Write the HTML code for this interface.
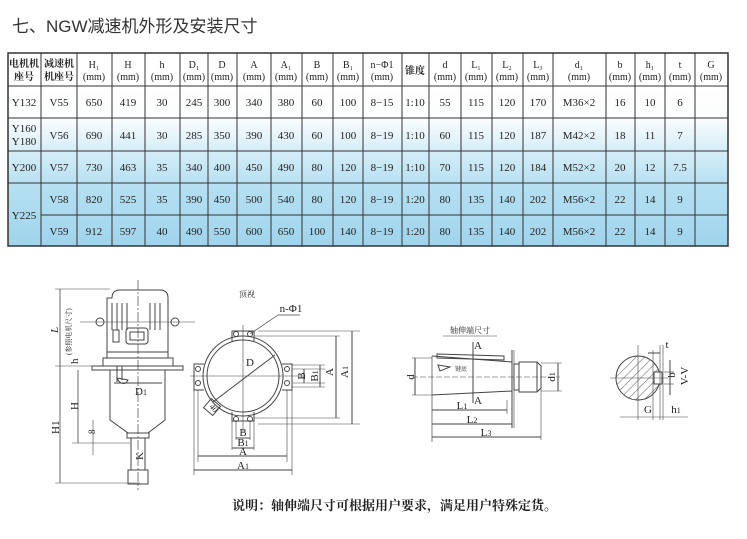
<!DOCTYPE html>
<html><head><meta charset="utf-8"><style>
html,body{margin:0;padding:0;background:#fff;}
svg{display:block;}
.t{font-family:"Liberation Serif","Noto Serif CJK SC",serif;fill:#222;}
.s{font-family:"Liberation Sans","Noto Sans CJK SC",sans-serif;}
</style></head><body>
<svg width="747" height="539" viewBox="0 0 747 539" xmlns="http://www.w3.org/2000/svg">
<defs>
<linearGradient id="bg" x1="0" y1="86" x2="0" y2="246" gradientUnits="userSpaceOnUse">
<stop offset="0" stop-color="#ffffff"/><stop offset="0.2" stop-color="#fbfdfe"/>
<stop offset="0.4" stop-color="#d6eef8"/><stop offset="0.62" stop-color="#b6e0f2"/>
<stop offset="1" stop-color="#9fd4ec"/></linearGradient>
<pattern id="hat" width="6" height="6" patternUnits="userSpaceOnUse" patternTransform="rotate(45)"><line x1="0" y1="0" x2="0" y2="6" stroke="#333" stroke-width="0.8"/></pattern>
</defs>
<text x="12" y="32" class="s" font-size="17" fill="#333">七、NGW减速机外形及安装尺寸</text>

<rect x="8" y="86" width="720" height="160" fill="url(#bg)"/>
<g stroke="#333" stroke-width="1" fill="none">
<rect x="8" y="53" width="720" height="193" stroke-width="1.5"/>
<line x1="8" y1="86" x2="728" y2="86"/>
<line x1="8" y1="118" x2="728" y2="118"/>
<line x1="8" y1="151" x2="728" y2="151"/>
<line x1="8" y1="183" x2="728" y2="183"/>
<line x1="41" y1="215" x2="728" y2="215"/>
<line x1="41" y1="53" x2="41" y2="246"/><line x1="77" y1="53" x2="77" y2="246"/><line x1="112" y1="53" x2="112" y2="246"/><line x1="145" y1="53" x2="145" y2="246"/><line x1="180" y1="53" x2="180" y2="246"/><line x1="208" y1="53" x2="208" y2="246"/><line x1="237" y1="53" x2="237" y2="246"/><line x1="271" y1="53" x2="271" y2="246"/><line x1="302" y1="53" x2="302" y2="246"/><line x1="333" y1="53" x2="333" y2="246"/><line x1="363" y1="53" x2="363" y2="246"/><line x1="402" y1="53" x2="402" y2="246"/><line x1="429" y1="53" x2="429" y2="246"/><line x1="461" y1="53" x2="461" y2="246"/><line x1="492" y1="53" x2="492" y2="246"/><line x1="523" y1="53" x2="523" y2="246"/><line x1="553" y1="53" x2="553" y2="246"/><line x1="606" y1="53" x2="606" y2="246"/><line x1="635" y1="53" x2="635" y2="246"/><line x1="665" y1="53" x2="665" y2="246"/><line x1="695" y1="53" x2="695" y2="246"/>
</g>
<g class="t" font-size="10" text-anchor="middle">
<text x="24" y="67" font-weight="bold">电机机</text><text x="24" y="80" font-weight="bold">座号</text>
<text x="59" y="67" font-weight="bold">减速机</text><text x="59" y="80" font-weight="bold">机座号</text>
<text x="94" y="68">H₁</text><text x="94" y="80">(mm)</text>
<text x="128" y="68">H</text><text x="128" y="80">(mm)</text>
<text x="162" y="68">h</text><text x="162" y="80">(mm)</text>
<text x="194" y="68">D₁</text><text x="194" y="80">(mm)</text>
<text x="222" y="68">D</text><text x="222" y="80">(mm)</text>
<text x="254" y="68">A</text><text x="254" y="80">(mm)</text>
<text x="286" y="68">A₁</text><text x="286" y="80">(mm)</text>
<text x="317" y="68">B</text><text x="317" y="80">(mm)</text>
<text x="348" y="68">B₁</text><text x="348" y="80">(mm)</text>
<text x="382" y="68">n−Φ1</text><text x="382" y="80">(mm)</text>
<text x="415" y="74" font-weight="bold">锥度</text>
<text x="445" y="68">d</text><text x="445" y="80">(mm)</text>
<text x="476" y="68">L₁</text><text x="476" y="80">(mm)</text>
<text x="507" y="68">L₂</text><text x="507" y="80">(mm)</text>
<text x="538" y="68">L₃</text><text x="538" y="80">(mm)</text>
<text x="579" y="68">d₁</text><text x="579" y="80">(mm)</text>
<text x="620" y="68">b</text><text x="620" y="80">(mm)</text>
<text x="650" y="68">h₁</text><text x="650" y="80">(mm)</text>
<text x="680" y="68">t</text><text x="680" y="80">(mm)</text>
<text x="711" y="68">G</text><text x="711" y="80">(mm)</text>
</g>
<g class="t" font-size="11" text-anchor="middle">
<text x="24" y="106">Y132</text><text x="24" y="132">Y160</text><text x="24" y="145">Y180</text><text x="24" y="171">Y200</text><text x="24" y="219">Y225</text>
</g>
<g class="t" font-size="11" text-anchor="middle">
<text y="106"><tspan x="59">V55</tspan><tspan x="94">650</tspan><tspan x="128">419</tspan><tspan x="162">30</tspan><tspan x="194">245</tspan><tspan x="222">300</tspan><tspan x="254">340</tspan><tspan x="286">380</tspan><tspan x="317">60</tspan><tspan x="348">100</tspan><tspan x="382">8−15</tspan><tspan x="415">1:10</tspan><tspan x="445">55</tspan><tspan x="476">115</tspan><tspan x="507">120</tspan><tspan x="538">170</tspan><tspan x="579">M36×2</tspan><tspan x="620">16</tspan><tspan x="650">10</tspan><tspan x="680">6</tspan></text>
<text y="139"><tspan x="59">V56</tspan><tspan x="94">690</tspan><tspan x="128">441</tspan><tspan x="162">30</tspan><tspan x="194">285</tspan><tspan x="222">350</tspan><tspan x="254">390</tspan><tspan x="286">430</tspan><tspan x="317">60</tspan><tspan x="348">100</tspan><tspan x="382">8−19</tspan><tspan x="415">1:10</tspan><tspan x="445">60</tspan><tspan x="476">115</tspan><tspan x="507">120</tspan><tspan x="538">187</tspan><tspan x="579">M42×2</tspan><tspan x="620">18</tspan><tspan x="650">11</tspan><tspan x="680">7</tspan></text>
<text y="171"><tspan x="59">V57</tspan><tspan x="94">730</tspan><tspan x="128">463</tspan><tspan x="162">35</tspan><tspan x="194">340</tspan><tspan x="222">400</tspan><tspan x="254">450</tspan><tspan x="286">490</tspan><tspan x="317">80</tspan><tspan x="348">120</tspan><tspan x="382">8−19</tspan><tspan x="415">1:10</tspan><tspan x="445">70</tspan><tspan x="476">115</tspan><tspan x="507">120</tspan><tspan x="538">184</tspan><tspan x="579">M52×2</tspan><tspan x="620">20</tspan><tspan x="650">12</tspan><tspan x="680">7.5</tspan></text>
<text y="203"><tspan x="59">V58</tspan><tspan x="94">820</tspan><tspan x="128">525</tspan><tspan x="162">35</tspan><tspan x="194">390</tspan><tspan x="222">450</tspan><tspan x="254">500</tspan><tspan x="286">540</tspan><tspan x="317">80</tspan><tspan x="348">120</tspan><tspan x="382">8−19</tspan><tspan x="415">1:20</tspan><tspan x="445">80</tspan><tspan x="476">135</tspan><tspan x="507">140</tspan><tspan x="538">202</tspan><tspan x="579">M56×2</tspan><tspan x="620">22</tspan><tspan x="650">14</tspan><tspan x="680">9</tspan></text>
<text y="235"><tspan x="59">V59</tspan><tspan x="94">912</tspan><tspan x="128">597</tspan><tspan x="162">40</tspan><tspan x="194">490</tspan><tspan x="222">550</tspan><tspan x="254">600</tspan><tspan x="286">650</tspan><tspan x="317">100</tspan><tspan x="348">140</tspan><tspan x="382">8−19</tspan><tspan x="415">1:20</tspan><tspan x="445">80</tspan><tspan x="476">135</tspan><tspan x="507">140</tspan><tspan x="538">202</tspan><tspan x="579">M56×2</tspan><tspan x="620">22</tspan><tspan x="650">14</tspan><tspan x="680">9</tspan></text>
</g>

<!-- left side view -->
<g stroke="#444" stroke-width="1" fill="none">
<line x1="138" y1="280" x2="138" y2="490" stroke-dasharray="10,2,2,2" stroke-width="0.7"/>
<path d="M112 298 Q112 290 120 290 L160 290 Q168 290 168 298 L168 352 L107 352 L107 298 Z"/>
<path d="M107 318 L107 352 M168 318 L168 352"/>
<line x1="112" y1="303" x2="112" y2="330"/><line x1="117" y1="303" x2="117" y2="330"/><line x1="122" y1="303" x2="122" y2="330"/><line x1="127" y1="303" x2="127" y2="330"/><line x1="150" y1="303" x2="150" y2="330"/><line x1="155" y1="303" x2="155" y2="330"/><line x1="160" y1="303" x2="160" y2="330"/>
<rect x="113" y="330" width="6" height="12"/><rect x="126" y="328" width="22" height="16" rx="3"/><rect x="130" y="332" width="14" height="8"/>
<circle cx="100" cy="322" r="4"/><circle cx="175" cy="322" r="4"/>
<line x1="80" y1="322" x2="195" y2="322" stroke-width="0.6"/>
<path d="M107 352 L107 358 L168 358 L168 352 M103 358 L103 366 L173 366 L173 358 Z"/>
<rect x="92" y="366" width="91" height="4"/>
<path d="M110 370 L110 420 L128 433 L148 433 L165 420 L165 370"/>
<path d="M117 366 L117 382 M122 366 L122 380"/>
<path d="M117 378 Q120 385 126 383 L128 380 Z"/>
<rect x="127" y="433" width="22" height="5"/>
<path d="M131 438 L131 470 L145 470 L145 438"/>
<rect x="128" y="470" width="20" height="14"/>
<line x1="114" y1="383" x2="162" y2="383"/>
<line x1="60" y1="289" x2="60" y2="483" stroke-width="0.8"/>
<line x1="55" y1="289" x2="110" y2="289" stroke-width="0.6"/>
<line x1="55" y1="366" x2="92" y2="366" stroke-width="0.6"/>
<line x1="55" y1="483" x2="140" y2="483" stroke-width="0.6"/>
<line x1="78" y1="370" x2="78" y2="443" stroke-width="0.8"/>
<line x1="72" y1="443" x2="130" y2="443" stroke-width="0.6"/>
<line x1="93" y1="420" x2="93" y2="455" stroke-width="0.6"/>
</g>
<g class="t" font-size="11">
<text x="58" y="333" transform="rotate(-90 58 333)" font-style="italic">L</text>
<text x="71" y="355" font-size="7" transform="rotate(-90 71 355)">(参照电机尺寸)</text>
<text x="78" y="364" transform="rotate(-90 78 364)">h</text>
<text x="78" y="410" transform="rotate(-90 78 410)">H</text>
<text x="59" y="434" transform="rotate(-90 59 434)">H1</text>
<text x="95" y="434" font-size="9" transform="rotate(-90 95 434)">8</text>
<text x="143" y="460" transform="rotate(-90 143 460)">K</text>
<text x="135" y="395">D<tspan font-size="8">1</tspan></text>
</g>

<!-- top view -->
<g stroke="#444" stroke-width="1" fill="none">
<circle cx="243" cy="376" r="40"/><circle cx="243" cy="376" r="36"/>
<line x1="243" y1="325" x2="243" y2="432" stroke-width="0.6"/>
<line x1="190" y1="376" x2="305" y2="376" stroke-width="0.6"/>
<path d="M232 341 L232 331 L254 331 L254 341"/>
<circle cx="236" cy="334" r="2.5"/><circle cx="250" cy="334" r="2.5"/>
<path d="M204 364 L194 364 L194 390 L204 390"/><circle cx="198" cy="369" r="2.5"/><circle cx="198" cy="383" r="2.5"/>
<path d="M282 364 L292 364 L292 390 L282 390"/><circle cx="287" cy="369" r="2.5"/><circle cx="287" cy="383" r="2.5"/>
<path d="M232 412 L232 421 L254 421 L254 412"/><circle cx="236" cy="419" r="2.5"/><circle cx="250" cy="419" r="2.5"/>
<line x1="213" y1="402" x2="275" y2="355"/>
<rect x="206" y="401" width="12" height="12" transform="rotate(40 212 407)"/>
<line x1="250" y1="334" x2="278" y2="315" stroke-width="0.7"/>
<line x1="278" y1="315" x2="300" y2="315" stroke-width="0.7"/>
<line x1="258" y1="331" x2="360" y2="331" stroke-width="0.6"/>
<line x1="254" y1="336" x2="340" y2="336" stroke-width="0.6"/>
<line x1="254" y1="418" x2="340" y2="418" stroke-width="0.6"/>
<line x1="258" y1="424" x2="360" y2="424" stroke-width="0.6"/>
<line x1="336" y1="336" x2="336" y2="418"/><line x1="352" y1="331" x2="352" y2="424"/>
<line x1="292" y1="369" x2="325" y2="369" stroke-width="0.6"/><line x1="292" y1="383" x2="325" y2="383" stroke-width="0.6"/>
<line x1="292" y1="365" x2="325" y2="365" stroke-width="0.6"/><line x1="292" y1="387" x2="325" y2="387" stroke-width="0.6"/>
<line x1="304" y1="369" x2="304" y2="383"/><line x1="320" y1="365" x2="320" y2="387"/>
<line x1="232" y1="421" x2="232" y2="450" stroke-width="0.6"/><line x1="254" y1="421" x2="254" y2="450" stroke-width="0.6"/>
<line x1="236" y1="421" x2="236" y2="440" stroke-width="0.6"/><line x1="250" y1="421" x2="250" y2="440" stroke-width="0.6"/>
<line x1="236" y1="438" x2="250" y2="438"/><line x1="232" y1="448" x2="254" y2="448"/>
<line x1="198" y1="390" x2="198" y2="462" stroke-width="0.6"/><line x1="287" y1="390" x2="287" y2="462" stroke-width="0.6"/>
<line x1="194" y1="390" x2="194" y2="475" stroke-width="0.6"/><line x1="292" y1="390" x2="292" y2="475" stroke-width="0.6"/>
<line x1="198" y1="456" x2="287" y2="456"/><line x1="194" y1="470" x2="292" y2="470"/>
</g>
<g class="t" font-size="11" text-anchor="middle">
<text x="247" y="297" font-size="8">顶视</text>
<text x="291" y="312">n-Φ1</text>
<text x="250" y="366">D</text>
<text x="243" y="436">B</text>
<text x="243" y="446">B<tspan font-size="8">1</tspan></text>
<text x="243" y="455">A</text>
<text x="243" y="469">A<tspan font-size="8">1</tspan></text>
<text x="305" y="376" transform="rotate(-90 305 376)">B</text>
<text x="318" y="376" transform="rotate(-90 318 376)">B<tspan font-size="8">1</tspan></text>
<text x="336" y="375" transform="rotate(-90 333 375)">A</text>
<text x="351" y="375" transform="rotate(-90 348 375)">A<tspan font-size="8">1</tspan></text>
<text x="214" y="411" font-size="8" transform="rotate(50 214 408)">40</text>
</g>

<!-- shaft -->
<g stroke="#444" stroke-width="1" fill="none">
<line x1="412" y1="377" x2="560" y2="377" stroke-dasharray="6,2" stroke-width="0.6"/>
<path d="M432 356 L512 362 M432 395 L512 391"/>
<path d="M437 354 L504 356 L504 360 L437 358 Z"/>
<line x1="432" y1="356" x2="432" y2="442" stroke-width="0.7"/>
<line x1="512" y1="350" x2="512" y2="428"/><line x1="514" y1="350" x2="514" y2="428" stroke-width="0.6"/>
<rect x="514" y="364" width="5" height="26"/>
<path d="M519 362 L537 362 L541 366 L541 388 L537 392 L519 392 Z"/><line x1="537" y1="362" x2="537" y2="392"/>
<line x1="541" y1="388" x2="541" y2="440" stroke-width="0.6"/>
<line x1="473" y1="342" x2="473" y2="403"/>
<path d="M438 365 L450 367 L440 371 Z"/>
<line x1="412" y1="358" x2="432" y2="358" stroke-width="0.6"/><line x1="412" y1="395" x2="432" y2="395" stroke-width="0.6"/><line x1="415" y1="358" x2="415" y2="395"/>
<line x1="541" y1="363" x2="562" y2="363" stroke-width="0.6"/><line x1="541" y1="391" x2="562" y2="391" stroke-width="0.6"/><line x1="558" y1="363" x2="558" y2="391"/>
<line x1="432" y1="410" x2="507" y2="410"/><line x1="507" y1="400" x2="507" y2="414" stroke-width="0.6"/>
<line x1="432" y1="424" x2="512" y2="424"/><line x1="432" y1="437" x2="541" y2="437"/>
<line x1="443" y1="336" x2="497" y2="336" stroke-width="0.6"/>
</g>
<g class="t" font-size="11" text-anchor="middle">
<text x="470" y="333" font-size="8">轴伸端尺寸</text>
<text x="478" y="349">A</text><text x="478" y="404">A</text>
<text x="461" y="371" font-size="6">键底</text>
<text x="414" y="377" transform="rotate(-90 414 377)">d</text>
<text x="555" y="377" transform="rotate(-90 555 377)">d<tspan font-size="8">1</tspan></text>
<text x="462" y="409">L<tspan font-size="8">1</tspan></text>
<text x="472" y="423">L<tspan font-size="8">2</tspan></text>
<text x="486" y="436">L<tspan font-size="8">3</tspan></text>
</g>

<!-- section -->
<g stroke="#444" stroke-width="1" fill="none">
<circle cx="638" cy="378" r="22" fill="url(#hat)"/>
<rect x="654" y="372" width="8" height="12" fill="#fff"/>
<line x1="610" y1="378" x2="668" y2="378" stroke-width="0.6"/>
<line x1="638" y1="345" x2="638" y2="420" stroke-width="0.6"/>
<line x1="653" y1="350" x2="653" y2="420" stroke-width="0.6"/>
<line x1="660" y1="345" x2="660" y2="420" stroke-width="0.6"/>
<line x1="663" y1="345" x2="663" y2="420" stroke-width="0.6"/>
<line x1="620" y1="417" x2="688" y2="417" stroke-width="0.6"/>
<line x1="648" y1="353" x2="660" y2="353"/>
<line x1="670" y1="360" x2="670" y2="395"/>
<line x1="664" y1="372" x2="674" y2="372" stroke-width="0.6"/><line x1="664" y1="384" x2="674" y2="384" stroke-width="0.6"/>
</g>
<g class="t" font-size="11" text-anchor="middle">
<text x="667" y="348">t</text>
<text x="678" y="378" font-size="10" transform="rotate(-90 675 378)">b</text>
<text x="692" y="380" transform="rotate(-90 688 380)">V-V</text>
<text x="648" y="413">G</text>
<text x="676" y="413">h<tspan font-size="8">1</tspan></text>
</g>

<text x="232" y="510" class="t" font-size="13" font-weight="bold">说明：轴伸端尺寸可根据用户要求，满足用户特殊定货。</text>
</svg>
</body></html>
